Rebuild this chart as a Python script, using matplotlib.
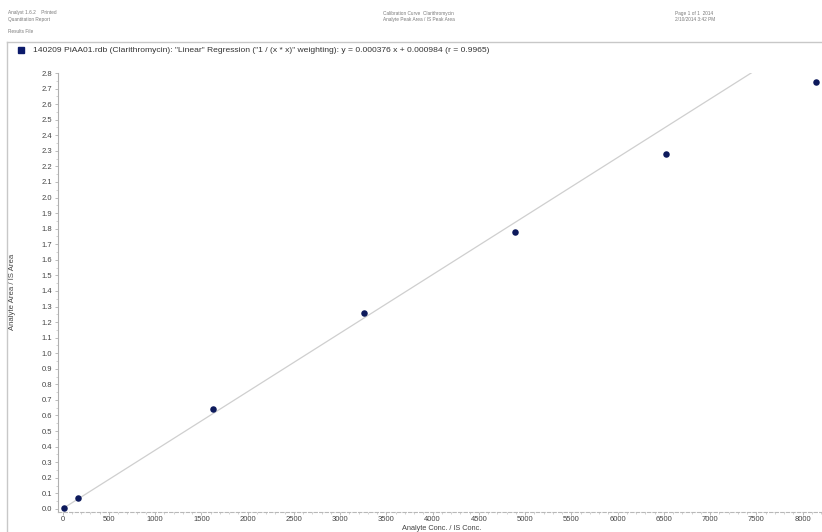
import numpy as np
import matplotlib
matplotlib.use('Agg')
import matplotlib.pyplot as plt
from matplotlib.lines import Line2D
from matplotlib.ticker import MultipleLocator

plt.rcParams['font.family'] = ['Liberation Sans', 'DejaVu Sans']

# calibration standards (analyte conc / IS conc) and measured area ratios
conc = [16.3, 163, 1630, 3260, 4890, 6520, 8150]
area_ratio = [0.005, 0.070, 0.640, 1.260, 1.780, 2.280, 2.740]

# weighted (1/x^2) linear fit reported by the software
slope = 0.000376
intercept = 0.000984
r_value = 0.9965

legend_text = ('140209 PiAA01.rdb (Clarithromycin): "Linear" Regression ("1 / (x * x)" weighting): '
               'y = %.6f x + %.6f (r = %.4f)' % (slope, intercept, r_value))

W, H = 822, 532
fig = plt.figure(figsize=(W / 100, H / 100), dpi=100)
fig.patch.set_facecolor('white')

def fx(px):
    return px / W

def fy(py):
    return 1 - py / H

# report header blocks
hdr = dict(fontsize=3.4, color='#7a7a7a', va='top', ha='left')
fig.text(fx(8), fy(10), 'Analyst 1.6.2    Printed', **hdr)
fig.text(fx(8), fy(17), 'Quantitation Report', **hdr)
fig.text(fx(8), fy(29), 'Results File', **hdr)
fig.text(fx(383), fy(11), 'Calibration Curve  Clarithromycin', **hdr)
fig.text(fx(383), fy(17), 'Analyte Peak Area / IS Peak Area', **hdr)
fig.text(fx(675), fy(11), 'Page 1 of 1  2014', **hdr)
fig.text(fx(675), fy(17), '2/10/2014 3:42 PM', **hdr)

# pane border
fig.add_artist(Line2D([fx(7), 1], [fy(42), fy(42)], color='#c8c8c8', lw=1.0))
fig.add_artist(Line2D([fx(7), fx(7)], [fy(42), 0], color='#c8c8c8', lw=1.0))

# legend entry
fig.add_artist(Line2D([fx(21)], [fy(50)], marker='s', markersize=5,
                      color='#0b1a6b', linestyle='none'))
fig.text(fx(33), fy(50.5), legend_text, fontsize=6.1, color='#333333', va='center', ha='left')

ax = fig.add_axes([fx(58), 1 - 512 / H, 1 - fx(58), (512 - 73) / H])
ax.set_xlim(-50, 8210)
ax.set_ylim(-0.02, 2.8)

xl = np.array([0, 8300])
ax.plot(xl, slope * xl + intercept, color='#cfcfcf', lw=0.9, zorder=1)
ax.scatter(conc, area_ratio, s=22, color='#0d1a5c', zorder=3, linewidths=0)

for side in ['top', 'right']:
    ax.spines[side].set_visible(False)
ax.spines['left'].set_color('#b0b0b0')
ax.spines['left'].set_linewidth(0.8)
ax.spines['bottom'].set_color('#b8b8b8')
ax.spines['bottom'].set_linewidth(0.8)
ax.spines['bottom'].set_linestyle((0, (3, 2)))

ax.xaxis.set_minor_locator(MultipleLocator(100))
ax.yaxis.set_minor_locator(MultipleLocator(0.05))
ax.set_xticks(np.arange(0, 8001, 500))
ax.set_xticklabels([str(v) for v in range(0, 8001, 500)])
ax.set_yticks(np.arange(0, 2.81, 0.1))
ax.set_yticklabels(['%.1f' % v for v in np.arange(0, 2.81, 0.1)])
ax.tick_params(axis='both', which='major', labelsize=5.5, colors='#b0b0b0',
               labelcolor='#444444', length=2.5, width=0.6, pad=2)
ax.tick_params(axis='x', which='major', length=2, pad=1)
ax.tick_params(axis='both', which='minor', colors='#c0c0c0', length=1.5, width=0.5)

fig.text(fx(13), fy(292), 'Analyte Area / IS Area', rotation=90, fontsize=5.6,
         color='#444444', va='center', ha='center')
fig.text(fx(442), fy(530.3), 'Analyte Conc. / IS Conc.', fontsize=5.3,
         color='#444444', va='baseline', ha='center')

fig.savefig('out.png', dpi=100, facecolor='white')
